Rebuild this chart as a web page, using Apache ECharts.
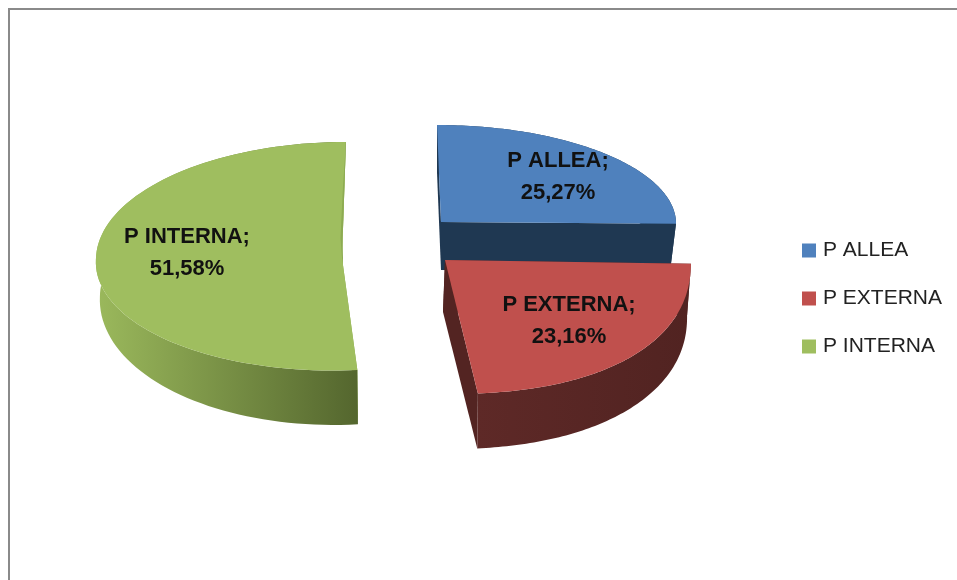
<!DOCTYPE html>
<html>
<head>
<meta charset="utf-8">
<style>
  html, body { margin: 0; padding: 0; background: #fff; }
  #chart { width: 957px; height: 580px; }
</style>
</head>
<body>
<div id="chart"></div>
<script src="https://cdn.jsdelivr.net/npm/echarts@6/dist/echarts.min.js"></script>
<script>
const categories = ['P ALLEA', 'P EXTERNA', 'P INTERNA']
const shares = [25.27, 23.16, 51.58]

// colori: faccia superiore, taglio, bordo esterno (sinistra -> destra)
const topColors = ['#4f81bd', '#c0504d', '#9fbe5f']
const cutColors = ['#1f3852', '#532422', '#8dab52']
const wallColors = [['#1f3852', '#1f3852'], ['#5e2927', '#512321'], ['#9bb95c', '#54662e']]

// geometria dei tre spicchi esplosi, in prospettiva ogni spicchio ha raggi suoi
const layouts = [
  {
    top: {cx: 441, cy: 222, rx: 235, ryUp: 97, ryDown: 97, skewUp: 0.041, skewDown: 0, n: 2},
    base: {cx: 441, cy: 270, rx: 229, ryUp: 97, ryDown: 97, skewUp: 0.041, skewDown: 0, n: 2},
    label: [558, 177]
  },
  {
    top: {cx: 445, cy: 260, rx: 246, ryUp: 133, ryDown: 134, skewUp: 0, skewDown: 0, n: 2.3},
    base: {cx: 443, cy: 312, rx: 244, ryUp: 137, ryDown: 137, skewUp: 0, skewDown: 0.033, n: 2.2},
    label: [569, 321]
  },
  {
    top: {cx: 342, cy: 258, rx: 246, ryUp: 116, ryDown: 112.5, skewUp: -0.034, skewDown: -0.08, n: 2},
    base: {cx: 343, cy: 295, rx: 243, ryUp: 100, ryDown: 130, skewUp: 0, skewDown: -0.07, n: 2},
    label: [187, 253]
  }
]

const total = shares.reduce((a, b) => a + b, 0)
let acc = 0
const ranges = shares.map(v => {
  const r = [acc / total * Math.PI * 2, (acc + v) / total * Math.PI * 2]
  acc += v
  return r
})

const arcPoint = (g, th) => {
  const s = Math.sin(th), c = Math.cos(th)
  const e = 2 / g.n
  const dx = g.rx * Math.sign(s) * Math.pow(Math.abs(s), e)
  const dy = -(c > 0 ? g.ryUp : g.ryDown) * Math.sign(c) * Math.pow(Math.abs(c), e)
  return [g.cx + dx + (c > 0 ? g.skewUp : g.skewDown) * dy, g.cy + dy]
}

const arc = (g, r) => {
  const pts = []
  for (let i = 0; i <= 90; i++) {
    pts.push(arcPoint(g, r[0] + (r[1] - r[0]) * i / 90))
  }
  return pts
}

const poly = (points, fill) => ({type: 'polygon', shape: {points}, style: {fill}})

const renderSlice = idx => () => {
  const l = layouts[idx]
  const topArc = arc(l.top, ranges[idx])
  const baseArc = arc(l.base, ranges[idx])
  const apex = [l.top.cx, l.top.cy]
  const baseApex = [l.base.cx, l.base.cy]
  const first = 0, last = topArc.length - 1
  const wallFill = new echarts.graphic.LinearGradient(0, 0, 1, 0, [
    {offset: 0, color: wallColors[idx][0]},
    {offset: 1, color: wallColors[idx][1]}
  ])
  const children = [
    poly([apex, topArc[first], baseArc[first], baseApex], cutColors[idx]),
    poly([apex, topArc[last], baseArc[last], baseApex], cutColors[idx]),
    poly(topArc.concat(baseArc.slice().reverse()), wallFill),
    poly([apex].concat(topArc), topColors[idx])
  ]
  if (idx === 2) {
    // piccola faccia interna visibile in alto sullo spicchio verde
    const a = topArc[last]
    children.push(poly([a, apex, [apex[0] - 1.5, apex[1] - 20], [a[0] - 3, a[1] + 45]], cutColors[idx]))
  }
  children.push({
    type: 'text',
    style: {
      x: l.label[0],
      y: l.label[1],
      text: categories[idx] + ';\n' + shares[idx].toFixed(2).replace('.', ',') + '%',
      align: 'center',
      verticalAlign: 'middle',
      fill: '#111',
      font: 'bold 22px "Liberation Sans"',
      lineHeight: 32
    }
  })
  return {type: 'group', children}
}

const chart = echarts.init(document.getElementById('chart'))
chart.setOption({
  animation: false,
  backgroundColor: '#fff',
  graphic: [{
    type: 'rect',
    silent: true,
    shape: {x: 9, y: 9, width: 1100, height: 800},
    style: {fill: 'none', stroke: '#8a8a8a', lineWidth: 2}
  }],
  legend: {
    orient: 'vertical',
    left: 797,
    top: 235,
    itemWidth: 14,
    itemHeight: 14,
    itemGap: 27,
    icon: 'rect',
    data: categories,
    textStyle: {fontFamily: 'Liberation Sans', fontSize: 21, color: '#222', padding: [0, 0, 0, 2]}
  },
  series: categories.map((name, i) => ({
    type: 'custom',
    name,
    coordinateSystem: 'none',
    itemStyle: {color: topColors[i]},
    data: [[shares[i]]],
    renderItem: renderSlice(i)
  }))
})
</script>
</body>
</html>
